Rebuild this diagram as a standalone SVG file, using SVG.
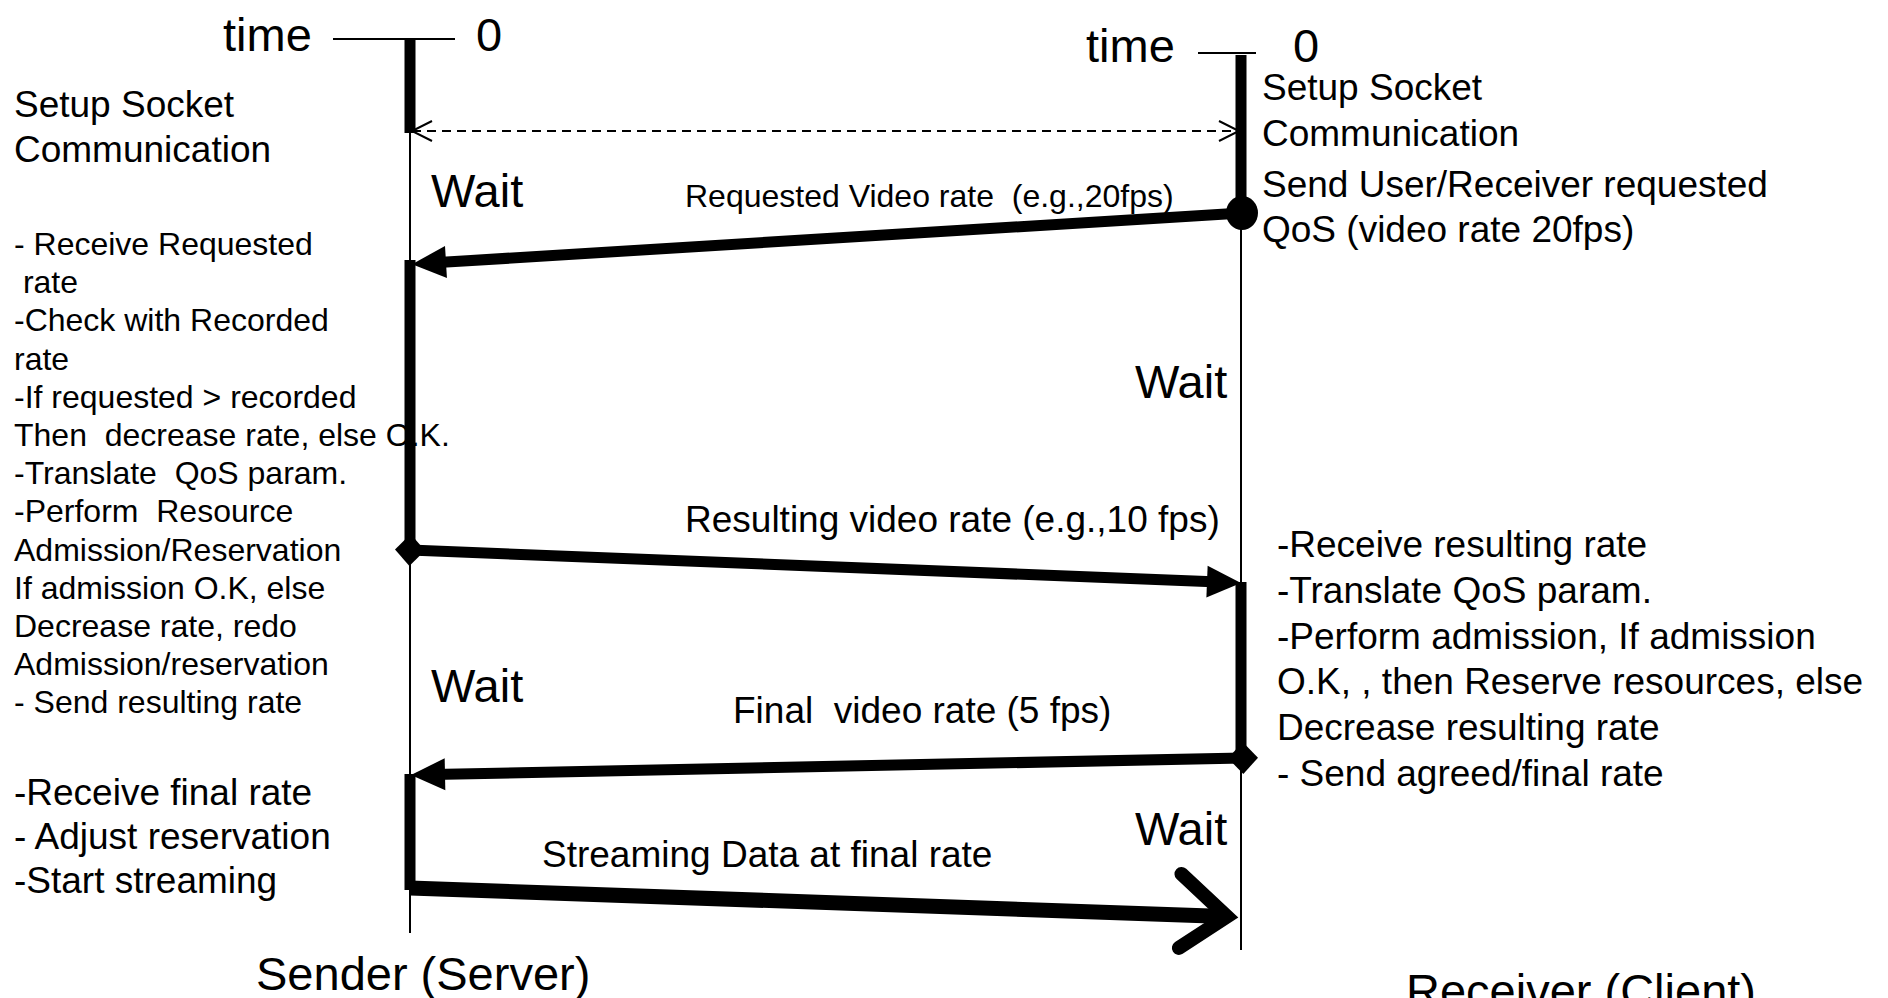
<svg xmlns="http://www.w3.org/2000/svg" width="1888" height="998" viewBox="0 0 1888 998">
  <defs>
    <style>
      text { font-family: "Liberation Sans", Arial, Helvetica, sans-serif; fill: #000; }
      .big { font-size: 47px; }
      .mid { font-size: 37px; }
      .small { font-size: 32px; }
      .life { stroke: #000; stroke-width: 2; fill: none; }
      .active { stroke: #000; stroke-width: 11; fill: none; }
      .msg { stroke: #000; stroke-width: 11; fill: none; }
      .stream { stroke: #000; stroke-width: 15; fill: none; }
      .dash { stroke: #000; stroke-width: 2; stroke-dasharray: 9 6; fill: none; }
      .tick { stroke: #000; stroke-width: 2; fill: none; }
    </style>
    <!-- solid triangular head; tip sits 22px beyond the line end -->
    <marker id="head" markerUnits="userSpaceOnUse" viewBox="0 0 34 32" refX="12" refY="16" markerWidth="34" markerHeight="32" orient="auto" overflow="visible">
      <path d="M0,0 L34,16 L0,32 z" fill="#000"/>
    </marker>
    <!-- diamond tail -->
    <marker id="diamond" markerUnits="userSpaceOnUse" viewBox="0 0 30 32" refX="15" refY="16" markerWidth="30" markerHeight="32" orient="auto" overflow="visible">
      <path d="M0,16 L15,0 L30,16 L15,32 z" fill="#000"/>
    </marker>
    <!-- round tail -->
    <marker id="dot" markerUnits="userSpaceOnUse" viewBox="0 0 32 34" refX="16" refY="17" markerWidth="32" markerHeight="34" orient="0" overflow="visible">
      <ellipse cx="16" cy="17" rx="16" ry="17" fill="#000"/>
    </marker>
    <!-- thin open chevron -->
    <marker id="open" markerUnits="userSpaceOnUse" viewBox="-22 -12 24 24" refX="0" refY="0" markerWidth="24" markerHeight="24" orient="auto-start-reverse" overflow="visible">
      <path d="M-20,-10 L0,0 L-20,10" fill="none" stroke="#000" stroke-width="2"/>
    </marker>
    <!-- heavy open chevron for the data stream -->
    <marker id="bigopen" markerUnits="userSpaceOnUse" viewBox="-70 -50 100 100" refX="0" refY="0" markerWidth="100" markerHeight="100" orient="auto" overflow="visible">
      <path d="M-45,-41 L2,0 L-45,33" fill="none" stroke="#000" stroke-width="14" stroke-linecap="round" stroke-linejoin="miter"/>
    </marker>
  </defs>

  <rect x="0" y="0" width="1888" height="998" fill="#fff"/>

  <!-- Sender lifeline -->
  <g id="sender">
    <text class="big" x="223" y="51">time</text>
    <line class="tick" x1="333" y1="39" x2="455" y2="39"/>
    <text class="big" x="476" y="51">0</text>
    <line class="life" x1="410" y1="39" x2="410" y2="933"/>
    <line class="active" x1="410" y1="39" x2="410" y2="133"/>
    <line class="active" x1="410" y1="260" x2="410" y2="552"/>
    <line class="active" x1="410" y1="774" x2="410" y2="890"/>
    <text class="big" x="256" y="990">Sender (Server)</text>
  </g>

  <!-- Receiver lifeline -->
  <g id="receiver">
    <text class="big" x="1086" y="62">time</text>
    <line class="tick" x1="1198" y1="53" x2="1256" y2="53"/>
    <text class="big" x="1293" y="62">0</text>
    <line class="life" x1="1241" y1="55" x2="1241" y2="950"/>
    <line class="active" x1="1241" y1="55" x2="1241" y2="213"/>
    <line class="active" x1="1241" y1="582" x2="1241" y2="758"/>
    <text class="big" x="1406" y="1007">Receiver (Client)</text>
  </g>

  <!-- Sender side notes -->
  <g id="sender-setup">
    <text class="mid" x="14" y="117">Setup Socket</text>
    <text class="mid" x="14" y="162">Communication</text>
  </g>
  <g id="sender-wait-1">
    <text class="big" x="431" y="207">Wait</text>
  </g>
  <g id="sender-check">
    <text class="small" xml:space="preserve"><tspan x="14" y="255">- Receive Requested</tspan><tspan x="14" y="293.2"> rate</tspan><tspan x="14" y="331.4">-Check with Recorded</tspan><tspan x="14" y="369.6">rate</tspan><tspan x="14" y="407.8">-If requested &gt; recorded</tspan><tspan x="14" y="446">Then  decrease rate, else O.K.</tspan><tspan x="14" y="484.2">-Translate  QoS param.</tspan><tspan x="14" y="522.4">-Perform  Resource</tspan><tspan x="14" y="560.6">Admission/Reservation</tspan><tspan x="14" y="598.8">If admission O.K, else</tspan><tspan x="14" y="637">Decrease rate, redo</tspan><tspan x="14" y="675.2">Admission/reservation</tspan><tspan x="14" y="713.4">- Send resulting rate</tspan></text>
  </g>
  <g id="sender-wait-2">
    <text class="big" x="431" y="702">Wait</text>
  </g>
  <g id="sender-start">
    <text class="mid"><tspan x="14" y="805">-Receive final rate</tspan><tspan x="14" y="849">- Adjust reservation</tspan><tspan x="14" y="893">-Start streaming</tspan></text>
  </g>

  <!-- Receiver side notes -->
  <g id="receiver-setup">
    <text class="mid" x="1262" y="100">Setup Socket</text>
    <text class="mid" x="1262" y="146">Communication</text>
  </g>
  <g id="receiver-request">
    <text class="mid" x="1262" y="197">Send User/Receiver requested</text>
    <text class="mid" x="1262" y="242">QoS (video rate 20fps)</text>
  </g>
  <g id="receiver-wait-1">
    <text class="big" x="1135" y="398">Wait</text>
  </g>
  <g id="receiver-admission">
    <text class="mid"><tspan x="1277" y="557">-Receive resulting rate</tspan><tspan x="1277" y="603">-Translate QoS param.</tspan><tspan x="1277" y="649">-Perform admission, If admission</tspan><tspan x="1277" y="694">O.K, , then Reserve resources, else</tspan><tspan x="1277" y="740">Decrease resulting rate</tspan><tspan x="1277" y="786">- Send agreed/final rate</tspan></text>
  </g>
  <g id="receiver-wait-2">
    <text class="big" x="1135" y="845">Wait</text>
  </g>

  <!-- Messages -->
  <g id="connectors">
    <line class="dash" x1="412" y1="131" x2="1239" y2="131" marker-start="url(#open)" marker-end="url(#open)"/>
    <line class="msg" x1="1242" y1="213" x2="434" y2="262.8" marker-start="url(#dot)" marker-end="url(#head)"/>
    <line class="msg" x1="410" y1="550" x2="1219" y2="582.1" marker-start="url(#diamond)" marker-end="url(#head)"/>
    <line class="msg" x1="1243" y1="758" x2="433" y2="774.5" marker-start="url(#diamond)" marker-end="url(#head)"/>
    <line class="stream" x1="410" y1="888" x2="1225" y2="916.5" marker-end="url(#bigopen)"/>
  </g>

  <!-- Message labels -->
  <g id="labels">
    <text class="small" x="685" y="207" xml:space="preserve">Requested Video rate  (e.g.,20fps)</text>
    <text class="mid" x="685" y="532">Resulting video rate (e.g.,10 fps)</text>
    <text class="mid" x="733" y="723" xml:space="preserve">Final  video rate (5 fps)</text>
    <text class="mid" x="542" y="867">Streaming Data at final rate</text>
  </g>
</svg>
